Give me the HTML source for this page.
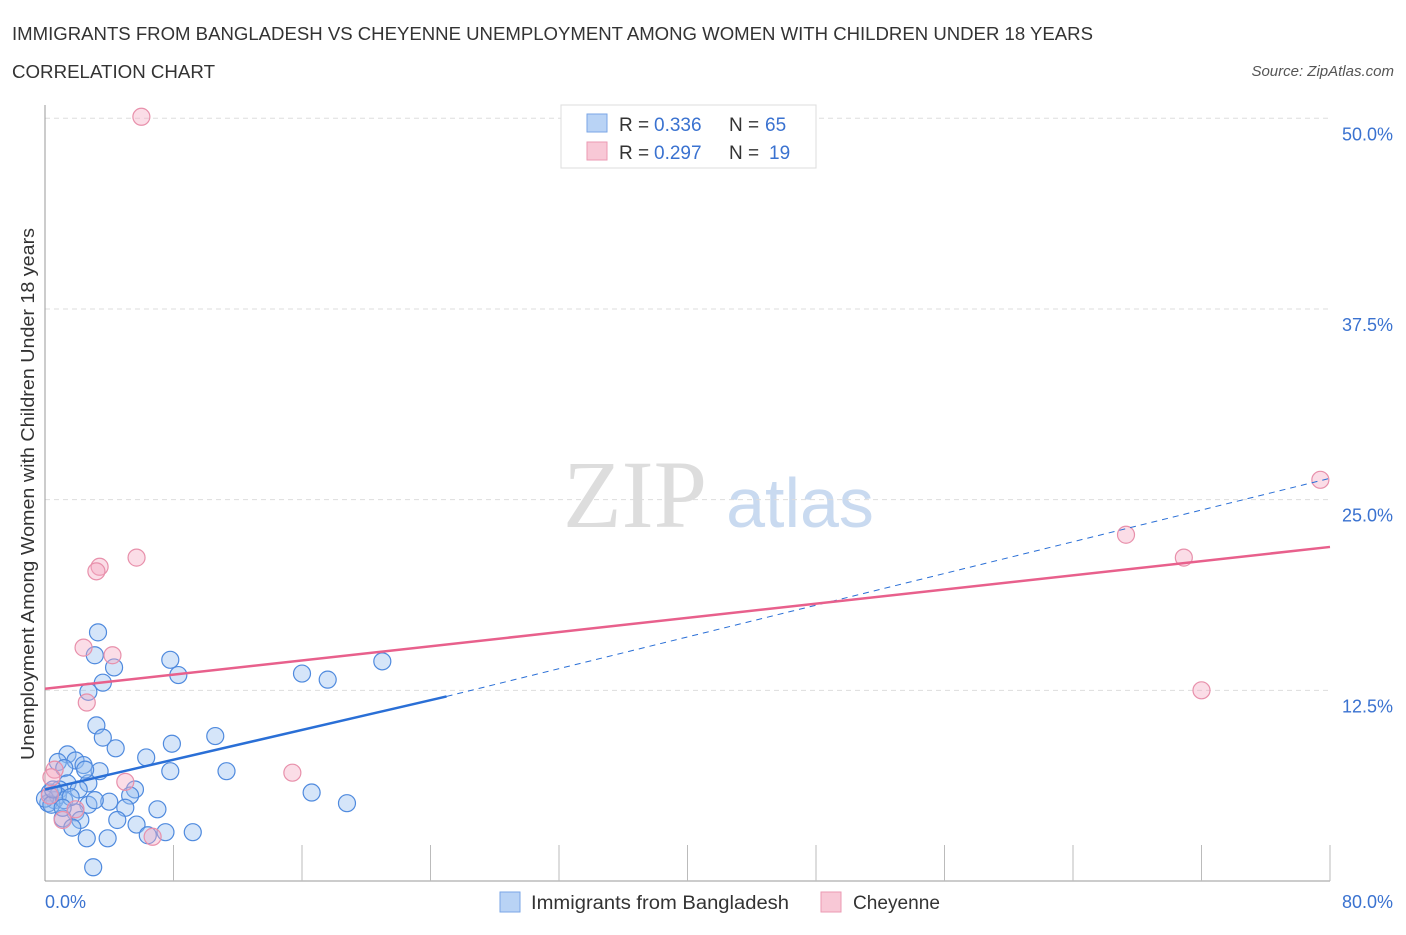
<!DOCTYPE html>
<html><head><meta charset="utf-8"><style>
body{margin:0;background:#fff;font-family:"Liberation Sans",sans-serif}
</style></head><body>
<svg width="1406" height="930" font-family="Liberation Sans, sans-serif">
<text x="12" y="40" font-size="18" fill="#333" textLength="1081" lengthAdjust="spacingAndGlyphs">IMMIGRANTS FROM BANGLADESH VS CHEYENNE UNEMPLOYMENT AMONG WOMEN WITH CHILDREN UNDER 18 YEARS</text>
<text x="12" y="78" font-size="18" fill="#333" textLength="203" lengthAdjust="spacingAndGlyphs">CORRELATION CHART</text>
<text x="1394" y="76" font-size="15" fill="#555" font-style="italic" text-anchor="end">Source: ZipAtlas.com</text>
<text x="635" y="527" font-size="96" fill="#ddd" font-family="Liberation Serif, serif" text-anchor="middle">ZIP</text>
<text x="800" y="527" font-size="70" fill="#c9daf0" text-anchor="middle">atlas</text>
<g id="grid"></g><g id="marks"></g>
<text transform="translate(34,494) rotate(-90)" font-size="18" fill="#333" text-anchor="middle" textLength="532" lengthAdjust="spacingAndGlyphs">Unemployment Among Women with Children Under 18 years</text>
<rect x="561" y="105" width="255" height="63" fill="#fff" stroke="#ddd"/>
<rect x="587" y="114" width="20" height="18" fill="#b9d3f5" stroke="#7aa6e6"/>
<text x="619" y="131" font-size="19" fill="#333">R =</text>
<text x="654" y="131" font-size="19" fill="#3a72d0">0.336</text>
<text x="729" y="131" font-size="19" fill="#333">N =</text>
<text x="765" y="131" font-size="19" fill="#3a72d0">65</text>
<rect x="587" y="142" width="20" height="18" fill="#f8c8d6" stroke="#eb9ab3"/>
<text x="619" y="159" font-size="19" fill="#333">R =</text>
<text x="654" y="159" font-size="19" fill="#3a72d0">0.297</text>
<text x="729" y="159" font-size="19" fill="#333">N =</text>
<text x="769" y="159" font-size="19" fill="#3a72d0">19</text>
<rect x="500" y="892" width="20" height="20" fill="#b9d3f5" stroke="#7aa6e6"/>
<text x="531" y="909" font-size="19" fill="#333" textLength="258" lengthAdjust="spacingAndGlyphs">Immigrants from Bangladesh</text>
<rect x="821" y="892" width="20" height="20" fill="#f8c8d6" stroke="#eb9ab3"/>
<text x="853" y="909" font-size="19" fill="#333" textLength="87" lengthAdjust="spacingAndGlyphs">Cheyenne</text>
<text x="45" y="908" font-size="18" fill="#3a72d0">0.0%</text>
<text x="1393" y="908" font-size="18" fill="#3a72d0" text-anchor="end">80.0%</text>
</svg>
<script>
const yTicks=[12.5,25,37.5,50];
const yTickLabels=["12.5%","25.0%","37.5%","50.0%"];
const blueX=[3.3,3.1,4.3,3.6,2.7,7.8,8.3,16.0,17.6,21.0,3.2,3.6,4.4,7.9,10.6,6.3,1.4,0.8,1.9,2.4,1.2,3.4,7.8,11.3,2.7,1.4,0.9,2.1,0.3,0.6,0.2,5.6,5.3,16.6,18.8,4.0,2.7,5.0,7.0,1.9,1.1,2.2,4.5,5.7,1.7,2.6,3.9,7.5,9.2,6.4,3.0,0.8,0.0,0.4,1.2,1.6,0.5,1.1,3.1,2.5];
const blueY=[16.3,14.8,14.0,13.0,12.4,14.5,13.5,13.6,13.2,14.4,10.2,9.4,8.7,9.0,9.5,8.1,8.3,7.8,7.9,7.6,7.4,7.2,7.2,7.2,6.4,6.4,6.0,6.0,5.8,5.3,5.1,6.0,5.6,5.8,5.1,5.2,5.0,4.8,4.7,4.5,4.1,4.0,4.0,3.7,3.5,2.8,2.8,3.2,3.2,3.0,0.9,5.6,5.4,5.0,5.3,5.5,6.0,4.8,5.3,7.3];
const pinkX=[6.0,5.7,3.4,3.2,2.4,4.2,2.6,5.0,15.4,67.3,70.9,72.0,79.4,0.6,0.4,1.9,1.1,6.7,0.3];
const pinkY=[50.1,21.2,20.6,20.3,15.3,14.8,11.7,6.5,7.1,22.7,21.2,12.5,26.3,7.3,6.8,4.7,4.0,2.9,5.6];
const blueTrend=[6.0,12.1,26.4]; // at x=0,25,80
const pinkTrend=[12.6,21.9]; // at x=0,80
const X=v=>45+v/80*1285, Y=v=>881-v/50*762.7;
const NS="http://www.w3.org/2000/svg";
const g=document.getElementById('grid'), m=document.getElementById('marks');
function mk(p,tag,a){const e=document.createElementNS(NS,tag);for(const k in a)e.setAttribute(k,a[k]);p.appendChild(e);return e;}
yTicks.forEach((t,i)=>{
 const l=mk(g,'line',{x1:45,x2:1330,y1:Y(t),y2:Y(t),stroke:'#ddd','stroke-dasharray':'5,4'});
 
 
 const tx=mk(g,'text',{x:1393,y:Y(t)+22,'font-size':18,fill:'#3a72d0','text-anchor':'end'});
 tx.textContent=yTickLabels[i];
 
 
});
const ax=mk(g,'line',{x1:45,x2:45,y1:105,y2:881,stroke:'#999'});


const bx=mk(g,'line',{x1:45,x2:1330,y1:881,y2:881,stroke:'#999'});


for(let i=1;i<=10;i++){
 const t=mk(g,'line',{x1:X(i*8),x2:X(i*8),y1:845,y2:881,stroke:'#bbb'});
 
 
}
blueX.forEach((v,i)=>{
 const c=mk(m,'circle',{cx:X(v),cy:Y(blueY[i]),r:8.5,fill:'rgba(150,190,240,0.4)',stroke:'#4f8ade','stroke-width':1.2});
 
 
});
pinkX.forEach((v,i)=>{
 const c=mk(m,'circle',{cx:X(v),cy:Y(pinkY[i]),r:8.5,fill:'rgba(245,170,195,0.4)',stroke:'#e890ab','stroke-width':1.2});
 
 
});
const b1=mk(m,'line',{x1:X(0),y1:Y(blueTrend[0]),x2:X(25),y2:Y(blueTrend[1]),stroke:'#2a6fd6','stroke-width':2.5});


const b2=mk(m,'line',{x1:X(25),y1:Y(blueTrend[1]),x2:X(80),y2:Y(blueTrend[2]),stroke:'#2a6fd6','stroke-width':1,'stroke-dasharray':'6,5'});


const p1=mk(m,'line',{x1:X(0),y1:Y(pinkTrend[0]),x2:X(80),y2:Y(pinkTrend[1]),stroke:'#e8608c','stroke-width':2.5});


</script>
</body></html>
